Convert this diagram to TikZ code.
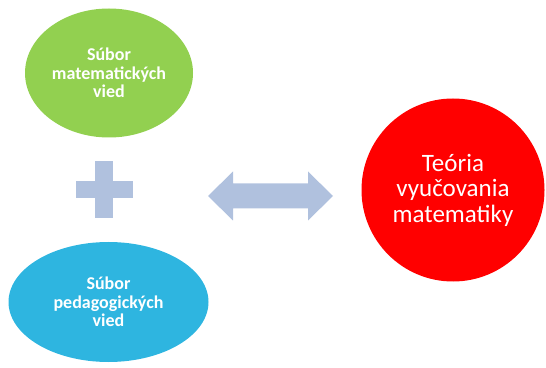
\documentclass[tikz,border=0pt]{standalone}
\usepackage{fontspec}
\setmainfont{Carlito}
\usetikzlibrary{shapes.geometric}

\definecolor{zelena}{RGB}{146,208,80}
\definecolor{modra}{RGB}{46,181,224}
\definecolor{cervena}{RGB}{255,0,0}
\definecolor{sivomodra}{RGB}{176,193,222}

\begin{document}
\begin{tikzpicture}[x=1pt, y=1pt,
    bublina/.style={ellipse, inner sep=0pt},
    bublinatext/.style={text=white, align=center,
      font=\bfseries\fontsize{18}{18.5}\selectfont},
    kruh/.style={circle, inner sep=0pt, text=white, align=center,
      font=\fontsize{25}{25.5}\selectfont},
    znak/.style={fill=sivomodra, draw=none}]
  \useasboundingbox (0, 0) rectangle (546, 367);

  % suborov
    \node[bublina, fill=zelena, minimum width=168pt, minimum height=129pt,
      label={[bublinatext]center:Súbor\\matematických\\vied}]
      at (109, 294) (mat) {};
    \node[bublina, fill=modra, minimum width=200pt, minimum height=120pt,
      label={[bublinatext]center:Súbor\\pedagogických\\vied}]
      at (108.5, 65) (ped) {};

  % teoria
    \node[kruh, fill=cervena, minimum size=183pt] at (453, 177) (tvm)
      {Teória\\vyučovania\\matematiky};

  % plus
    \coordinate (plus) at (104, 177);
    \fill[znak] (plus) ++(-28.5, -8.5) rectangle ++(57, 17);
    \fill[znak] (plus) ++(-9, -28.5) rectangle ++(18, 57);

  % obojstranna sipka
    \coordinate (sipka) at (270.5, 171);
    \fill[znak] (sipka) ++(-62.5, 0) -- ++(25, 24.5) -- ++(0, -12)
      -- ++(75, 0) -- ++(0, 12) -- ++(25, -24.5) -- ++(-25, -24.5)
      -- ++(0, 12) -- ++(-75, 0) -- ++(0, -12) -- cycle;
\end{tikzpicture}
\end{document}
